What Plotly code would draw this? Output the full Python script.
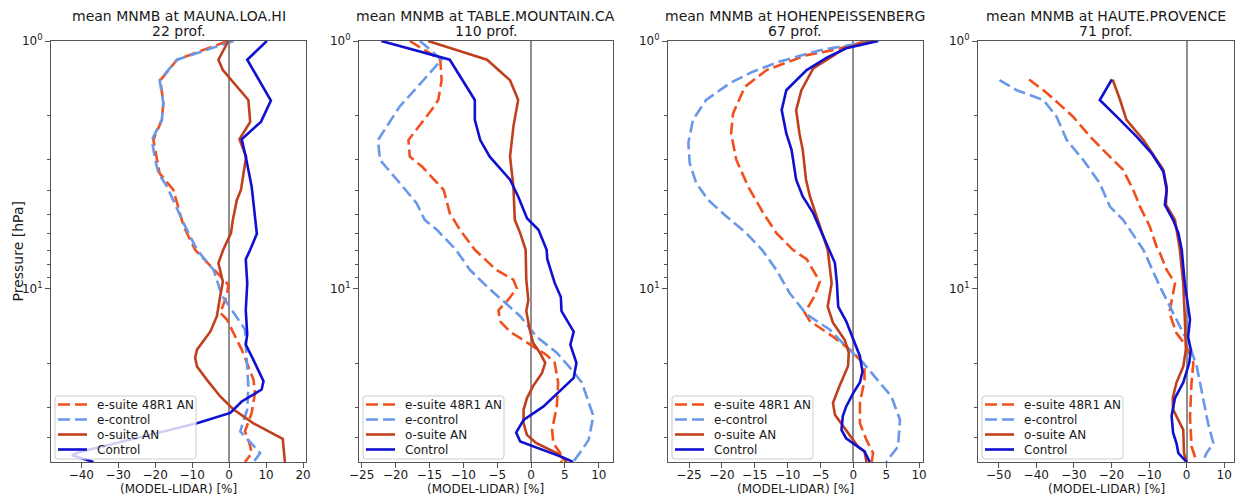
import numpy as np
import plotly.graph_objects as go

# ---------------------------------------------------------------------------
# Mean MNMB profiles (MODEL-LIDAR, %) versus pressure level (hPa)
# ---------------------------------------------------------------------------
STATIONS = ["MAUNA.LOA.HI", "TABLE.MOUNTAIN.CA", "HOHENPEISSENBERG", "HAUTE.PROVENCE"]
N_PROFILES = [22, 110, 67, 71]
SERIES = ["e-suite 48R1 AN", "e-control", "o-suite AN", "Control"]
X_TITLE = "(MODEL-LIDAR) [%]"
Y_TITLE = "Pressure [hPa]"

# --- Mauna Loa -------------------------------------------------------------
MLO_ESUITE_P = [1.0, 1.19, 1.44, 1.78, 2.08, 2.51, 3.02, 3.42, 3.99, 5.6, 6.96, 8.65, 9.63,
                10.6, 12.5, 13.3, 17.6, 23.3, 26.3, 31.7, 37.6, 42.0, 46.0, 50.0]
MLO_ESUITE = [-0.4, -14.1, -18.6, -17.8, -18.2, -20.5, -19.5, -18.8, -15.1, -12.3, -9.2, -3.3, -0.2,
              -0.6, -2.4, -0.6, 3.4, 6.6, 7.0, 6.1, 4.3, 5.5, 6.1, 4.3]
MLO_ECONTROL_P = [1.0, 1.19, 1.44, 1.78, 2.08, 2.51, 3.02, 3.42, 3.87, 5.6, 6.96, 8.4, 10.6,
                  12.5, 14.6, 17.6, 24.7, 30.7, 37.6, 46.0, 50.0]
MLO_ECONTROL = [1.2, -14.1, -18.8, -17.8, -18.2, -20.9, -20.0, -19.1, -16.8, -11.9, -8.7, -4.2, -2.0,
                1.2, 4.3, 4.6, 5.2, 4.9, 3.0, 8.4, 6.6]
MLO_OSUITE_P = [1.0, 1.19, 1.31, 1.73, 2.12, 2.49, 2.93, 3.99, 4.38, 5.27, 5.96, 6.96, 7.87, 9.36,
                11.1, 12.9, 14.9, 17.6, 19.0, 20.6, 23.3, 27.2, 30.7, 34.9, 40.3, 44.6, 50.0]
MLO_OSUITE = [-0.2, -2.9, -1.7, 5.2, 5.7, 2.8, 4.6, 3.2, 2.1, 1.0, 0.5, -1.6, -2.9, -1.7,
              -2.6, -3.3, -5.1, -8.7, -9.2, -8.7, -6.0, -2.4, 1.2, 6.6, 14.5, 14.7, 15.1]
MLO_CONTROL_P = [1.0, 1.19, 1.74, 2.12, 2.49, 2.93, 3.87, 6.0, 6.96, 7.6, 9.5, 12.2, 15.3, 16.8,
                 19.4, 23.6, 25.5, 28.5, 31.7, 34.9, 45.9, 47.0, 50.0]
MLO_CONTROL = [10.2, 4.9, 11.3, 8.6, 3.4, 4.5, 6.1, 7.5, 5.7, 4.5, 4.9, 4.5, 4.9, 4.5,
               6.6, 9.3, 8.8, 3.4, 0.3, -8.7, -41.2, -42.5, -36.7]

# --- Table Mountain ----------------------------------------------------------
TMF_ESUITE_P = [1.0, 1.19, 1.44, 1.73, 1.9, 2.51, 2.93, 3.21, 3.99, 4.95, 5.78, 6.96, 8.4, 9.2,
                9.96, 11.1, 12.2, 13.5, 14.9, 16.8, 18.5, 19.9, 23.9, 29.9, 37.1, 42.0, 46.0, 50.0]
TMF_ESUITE = [-17.9, -13.4, -13.2, -13.7, -14.7, -18.1, -17.9, -16.1, -12.9, -12.0, -10.5, -8.3, -5.1, -2.6,
              -2.1, -3.4, -4.8, -4.6, -3.1, -0.1, 2.3, 3.5, 4.0, 3.8, 3.1, 3.3, 4.3, 4.5]
TMF_ECONTROL_P = [1.0, 1.19, 1.44, 1.84, 2.51, 3.02, 3.63, 4.51, 5.27, 5.78, 6.96, 8.4, 9.8,
                  11.1, 12.9, 15.6, 18.1, 21.5, 23.9, 32.6, 40.7, 46.0, 50.0]
TMF_ECONTROL = [-16.4, -13.2, -15.9, -19.4, -22.6, -22.3, -19.8, -16.9, -15.7, -13.9, -11.1, -9.0, -6.5,
                -4.3, -1.6, 0.8, 3.8, 6.2, 7.5, 9.2, 8.5, 7.2, 6.2]
TMF_OSUITE_P = [1.0, 1.19, 1.44, 1.73, 2.21, 2.93, 3.87, 5.27, 5.96, 6.96, 9.2, 11.1, 12.3, 14.6,
                16.5, 18.1, 19.9, 21.9, 24.7, 27.6, 30.7, 34.9, 38.9, 42.0, 46.0, 50.0]
TMF_OSUITE = [-15.2, -6.5, -3.1, -1.9, -2.6, -3.1, -2.6, -2.4, -1.6, -0.8, -0.7, -0.4, -0.7, -0.2,
              0.3, 1.3, 2.1, 1.6, 0.3, -0.6, -1.1, -1.1, -0.6, 0.8, 3.8, 5.3]
TMF_CONTROL_P = [1.0, 1.19, 1.73, 2.08, 2.51, 2.93, 3.63, 4.24, 5.19, 5.78, 6.96, 7.6, 9.49, 10.8,
                 12.3, 14.9, 16.8, 19.9, 22.9, 26.3, 29.9, 33.8, 38.0, 41.3, 44.6, 48.0, 50.0]
TMF_CONTROL = [-22.1, -12.0, -8.3, -8.3, -7.5, -6.1, -3.1, -1.9, -0.6, 1.1, 2.3, 2.4, 3.5, 4.4,
               4.5, 6.3, 5.8, 6.7, 6.3, 4.0, 1.8, -1.1, -2.2, -1.6, 1.8, 4.8, 6.2]

# --- Hohenpeissenberg --------------------------------------------------------
HOH_ESUITE_P = [1.0, 1.08, 1.14, 1.31, 1.53, 1.96, 2.36, 3.02, 3.87, 4.95, 5.96, 6.96, 7.6, 9.36,
                10.7, 12.5, 13.5, 15.6, 17.6, 20.2, 23.3, 28.9, 34.9, 40.7, 46.0, 50.0]
HOH_ESUITE = [2.0, -2.5, -7.1, -13.2, -16.5, -18.3, -18.6, -17.8, -16.0, -13.7, -11.7, -9.2, -7.1, -5.1,
              -5.9, -7.4, -6.6, -3.1, -0.5, 1.7, 1.7, 1.0, 1.0, 2.0, 3.0, 2.8]
HOH_ECONTROL_P = [1.0, 1.09, 1.21, 1.33, 1.48, 1.73, 2.08, 2.58, 3.11, 3.75, 4.38, 5.11, 5.96, 6.96,
                  8.4, 10.4, 12.7, 14.6, 17.1, 19.9, 23.9, 27.2, 33.8, 43.3, 50.0]
HOH_ECONTROL = [3.0, -5.1, -11.2, -15.3, -18.8, -22.4, -24.4, -25.1, -24.9, -23.9, -22.1, -19.3, -16.3, -13.9,
                -11.7, -9.7, -7.1, -3.6, -1.1, 1.5, 4.0, 5.8, 7.1, 6.8, 5.0]
HOH_OSUITE_P = [1.0, 1.07, 1.29, 1.58, 1.9, 2.36, 2.75, 3.63, 4.24, 5.11, 6.96, 9.49, 11.8, 13.7,
                16.1, 18.1, 20.5, 24.7, 28.9, 32.2, 37.1, 43.3, 45.3, 50.0]
HOH_OSUITE = [3.0, -1.3, -6.1, -7.9, -8.7, -8.2, -7.7, -7.2, -6.6, -5.6, -3.9, -3.3, -3.9, -3.1,
              -1.3, -0.7, -0.8, -2.1, -3.1, -2.8, -1.1, 0.7, 1.7, 2.0]
HOH_CONTROL_P = [1.0, 1.07, 1.17, 1.31, 1.58, 1.9, 2.36, 2.75, 3.63, 4.24, 4.95, 6.96, 7.87, 9.49,
                 11.8, 13.5, 16.1, 18.7, 21.6, 23.9, 26.3, 29.9, 32.6, 37.1, 40.1, 45.3, 50.0]
HOH_CONTROL = [3.8, -1.1, -4.1, -7.1, -10.2, -10.9, -10.2, -9.4, -8.7, -7.7, -6.1, -3.6, -2.8, -2.5,
               -2.3, -1.1, 0.0, 1.0, 1.4, 1.0, 0.0, -1.1, -1.6, -1.8, -1.1, 1.7, 2.5]

# --- Haute Provence ----------------------------------------------------------
OHP_ESUITE_P = [1.43, 1.62, 2.02, 2.43, 2.84, 3.31, 3.99, 4.66, 5.6, 6.76, 7.18, 8.4, 9.49, 11.1,
                12.5, 15.1, 17.1, 19.9, 23.9, 32.6, 43.3, 50.0]
OHP_ESUITE = [-41.9, -37.2, -30.2, -25.7, -21.3, -16.9, -14.2, -12.4, -9.8, -8.0, -7.1, -5.3, -3.1, -4.0,
              -4.6, -2.7, 0.0, 1.8, 1.3, 0.9, 1.3, 2.7]
OHP_ECONTROL_P = [1.44, 1.58, 1.73, 2.02, 2.51, 3.02, 3.75, 4.66, 5.27, 6.35, 6.96, 9.8, 11.8, 14.2,
                  17.1, 20.6, 26.3, 34.9, 42.0, 46.0, 50.0]
OHP_ECONTROL = [-49.8, -45.2, -38.1, -34.6, -31.9, -27.5, -23.1, -20.4, -16.9, -13.3, -11.5, -7.1, -4.4, -1.8,
                0.9, 2.7, 4.0, 5.7, 7.1, 5.3, 4.3]
OHP_OSUITE_P = [1.43, 1.73, 2.08, 2.51, 3.31, 3.87, 4.58, 5.27, 6.96, 9.49, 12.9, 17.6, 20.6, 23.9,
                27.6, 30.7, 37.1, 46.0, 50.0]
OHP_OSUITE = [-19.7, -17.7, -16.0, -11.5, -6.2, -5.3, -5.5, -3.1, -1.8, -0.9, -0.5, -0.2, -0.9, -2.7,
              -3.7, -3.6, -0.9, -0.7, 0.0]
OHP_CONTROL_P = [1.43, 1.73, 2.02, 2.43, 2.84, 3.36, 3.99, 4.58, 5.27, 5.96, 6.96, 9.49, 13.3, 15.6,
                 17.6, 19.9, 23.9, 27.6, 32.6, 38.1, 42.0, 46.0, 50.0]
OHP_CONTROL = [-19.9, -23.1, -18.6, -13.3, -9.3, -6.2, -5.3, -5.8, -3.6, -2.2, -1.3, -0.5, 0.9, 0.4,
               1.1, 0.7, -0.9, -3.1, -4.0, -3.6, -2.7, -2.2, 0.0]

# x-axis tick values per station
X_TICKS = [
    [-40, -30, -20, -10, 0, 10, 20],
    [-25, -20, -15, -10, -5, 0, 5, 10],
    [-25, -20, -15, -10, -5, 0, 5, 10],
    [-50, -40, -30, -20, -10, 0, 10],
]
Y_TICKS = [1, 10]
Y_TICK_TEXT = ["10<sup>0</sup>", "10<sup>1</sup>"]
Y_MINOR = [2, 3, 4, 5, 6, 7, 8, 9, 20, 30, 40]

PROFILES = [
    [(MLO_ESUITE_P, MLO_ESUITE), (MLO_ECONTROL_P, MLO_ECONTROL),
     (MLO_OSUITE_P, MLO_OSUITE), (MLO_CONTROL_P, MLO_CONTROL)],
    [(TMF_ESUITE_P, TMF_ESUITE), (TMF_ECONTROL_P, TMF_ECONTROL),
     (TMF_OSUITE_P, TMF_OSUITE), (TMF_CONTROL_P, TMF_CONTROL)],
    [(HOH_ESUITE_P, HOH_ESUITE), (HOH_ECONTROL_P, HOH_ECONTROL),
     (HOH_OSUITE_P, HOH_OSUITE), (HOH_CONTROL_P, HOH_CONTROL)],
    [(OHP_ESUITE_P, OHP_ESUITE), (OHP_ECONTROL_P, OHP_ECONTROL),
     (OHP_OSUITE_P, OHP_OSUITE), (OHP_CONTROL_P, OHP_CONTROL)],
]

# ---------------------------------------------------------------------------
# Styling / layout
# ---------------------------------------------------------------------------
W, H = 1240, 502
FONT = "DejaVu Sans"
TXT = "#1a1a1a"
FRAME = "#555555"

LINE_STYLE = [
    dict(color="#F24F1C", width=2.6, dash="12px,5px"),
    dict(color="#6A98E8", width=2.6, dash="12px,5px"),
    dict(color="#C0401E", width=2.6, dash="solid"),
    dict(color="#1010D0", width=2.6, dash="solid"),
]

PANEL_PX = [(51, 306), (359, 613), (668, 923), (978, 1234)]
PLOT_TOP, PLOT_BOTTOM = 41, 462
X_RANGES = [(-48.2, 20.8), (-25.4, 12.1), (-28.2, 10.6), (-55.5, 12.6)]
P_RANGE = (1.0, 50.0)

# legend box geometry (pixels)
LEG_W, LEG_H = 141, 63
LEG_PAD_L, LEG_BOTTOM = 4, 459
LEG_ROW0, LEG_ROW_STEP = 8.5, 15
LEG_SAMPLE = (3, 32)
LEG_TEXT_X = 40


def px(x):
    return x / W


def py(y):
    return 1 - y / H


def rounded_rect(x0, y0, x1, y1, r=3):
    X0, X1 = px(x0), px(x1)
    Y0, Y1 = py(y0), py(y1)
    rx, ry = r / W, r / H
    return (f"M {X0 + rx},{Y0} L {X1 - rx},{Y0} Q {X1},{Y0} {X1},{Y0 - ry} "
            f"L {X1},{Y1 + ry} Q {X1},{Y1} {X1 - rx},{Y1} L {X0 + rx},{Y1} "
            f"Q {X0},{Y1} {X0},{Y1 + ry} L {X0},{Y0 - ry} Q {X0},{Y0} {X0 + rx},{Y0} Z")


def label(text, x, y, size, **kw):
    return dict(text=text, x=x, y=y, xref="paper", yref="paper", showarrow=False,
                font=dict(size=size, color=TXT), **kw)


y_dom = [py(PLOT_BOTTOM), py(PLOT_TOP)]

fig = go.Figure()
layout = dict(
    width=W, height=H, autosize=False,
    margin=dict(l=0, r=0, t=0, b=0),
    paper_bgcolor="white", plot_bgcolor="white",
    font=dict(family=FONT, size=12, color=TXT),
    showlegend=False,
    annotations=[], shapes=[],
)

for i, station in enumerate(STATIONS):
    suffix = "" if i == 0 else str(i + 1)
    xa, ya = "x" + suffix, "y" + suffix

    for name, (p, v), style in zip(SERIES, PROFILES[i], LINE_STYLE):
        fig.add_trace(go.Scatter(
            x=v, y=p, mode="lines", name=name, line=style,
            xaxis=xa, yaxis=ya, showlegend=False, hoverinfo="skip",
        ))

    x0, x1 = PANEL_PX[i]
    layout["xaxis" + suffix] = dict(
        domain=[px(x0), px(x1)], anchor=ya, automargin=False,
        range=list(X_RANGES[i]),
        tickmode="array", tickvals=X_TICKS[i],
        ticks="outside", ticklen=5, tickwidth=1, tickcolor=FRAME,
        tickfont=dict(size=12, color=TXT), ticklabelstandoff=-3,
        showline=True, linecolor=FRAME, linewidth=1, mirror=True,
        showgrid=False,
        zeroline=True, zerolinecolor="#8f8f8f", zerolinewidth=1.6,
    )
    layout["yaxis" + suffix] = dict(
        domain=y_dom, anchor=xa, type="log", automargin=False,
        range=[np.log10(P_RANGE[1]), np.log10(P_RANGE[0])],
        tickmode="array", tickvals=Y_TICKS, ticktext=Y_TICK_TEXT,
        ticks="outside", ticklen=5, tickwidth=1, tickcolor=FRAME,
        tickfont=dict(size=12, color=TXT),
        minor=dict(tickmode="array", tickvals=Y_MINOR, ticks="outside",
                   ticklen=3, tickwidth=1, tickcolor=FRAME, showgrid=False),
        showline=True, linecolor=FRAME, linewidth=1, mirror=True,
        showgrid=False, zeroline=False,
    )

    # legend box: semi-transparent frame, line samples and labels
    bx0 = x0 + LEG_PAD_L
    by1 = LEG_BOTTOM
    by0 = by1 - LEG_H
    layout["shapes"].append(dict(
        type="path", path=rounded_rect(bx0, by0, bx0 + LEG_W, by1), xref="paper", yref="paper",
        fillcolor="rgba(255,255,255,0.8)", line=dict(color="#cccccc", width=1), layer="above"))
    for k, (name, style) in enumerate(zip(SERIES, LINE_STYLE)):
        ry = by0 + LEG_ROW0 + k * LEG_ROW_STEP
        layout["shapes"].append(dict(
            type="line", xref="paper", yref="paper",
            x0=px(bx0 + LEG_SAMPLE[0]), x1=px(bx0 + LEG_SAMPLE[1]), y0=py(ry), y1=py(ry),
            line=style, layer="above"))
        layout["annotations"].append(label(name, px(bx0 + LEG_TEXT_X), py(ry), 12,
                                           xanchor="left", yanchor="middle"))

    # panel title (two lines) and x-axis title
    xc = px((x0 + x1) / 2)
    layout["annotations"].append(label(f"mean MNMB at {station}", xc, py(16), 14,
                                       xanchor="center", yanchor="middle"))
    layout["annotations"].append(label(f"{N_PROFILES[i]} prof.", xc, py(31), 14,
                                       xanchor="center", yanchor="middle"))
    layout["annotations"].append(label(X_TITLE, xc, py(489), 12,
                                       xanchor="center", yanchor="middle"))

# shared y-axis title on the first panel
layout["annotations"].append(label(Y_TITLE, px(17), py((PLOT_TOP + PLOT_BOTTOM) / 2), 14,
                                   xanchor="center", yanchor="middle", textangle=-90))

fig.update_layout(**layout)
fig.write_html("out.html")
